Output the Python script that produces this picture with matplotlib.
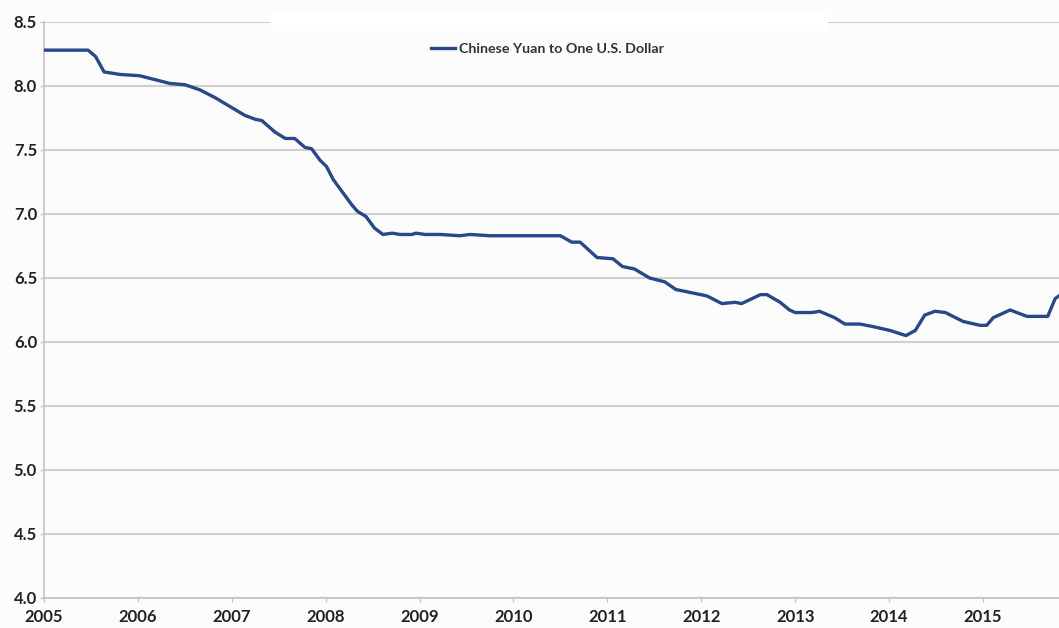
# Chinese yuan per US dollar, 2005-2015
import numpy as np
import matplotlib.pyplot as plt
from matplotlib.patches import Rectangle

plt.rcParams['font.family'] = ['Lato', 'DejaVu Sans']

# fractional year and CNY per USD
years = [2005.00, 2005.47, 2005.55, 2005.64, 2005.81, 2006.02, 2006.18, 2006.34,
         2006.50, 2006.66, 2006.82, 2006.98, 2007.14, 2007.25, 2007.32, 2007.46,
         2007.57, 2007.67, 2007.78, 2007.85, 2007.94, 2008.01, 2008.08, 2008.18,
         2008.28, 2008.34, 2008.43, 2008.52, 2008.61, 2008.71, 2008.79, 2008.92,
         2008.96, 2009.06, 2009.22, 2009.43, 2009.54, 2009.75, 2010.07, 2010.28,
         2010.50, 2010.62, 2010.71, 2010.89, 2011.06, 2011.16, 2011.29, 2011.45,
         2011.61, 2011.73, 2012.06, 2012.22, 2012.36, 2012.43, 2012.63, 2012.70,
         2012.84, 2012.94, 2013.00, 2013.18, 2013.26, 2013.42, 2013.53, 2013.69,
         2013.83, 2014.01, 2014.18, 2014.28, 2014.38, 2014.49, 2014.60, 2014.79,
         2014.97, 2015.04, 2015.11, 2015.29, 2015.36, 2015.47, 2015.69, 2015.77,
         2015.81]
rate = [8.28, 8.28, 8.23, 8.11, 8.09, 8.08, 8.05, 8.02,
        8.01, 7.97, 7.91, 7.84, 7.77, 7.74, 7.73, 7.64,
        7.59, 7.59, 7.52, 7.51, 7.42, 7.37, 7.27, 7.17,
        7.07, 7.02, 6.98, 6.89, 6.84, 6.85, 6.84, 6.84,
        6.85, 6.84, 6.84, 6.83, 6.84, 6.83, 6.83, 6.83,
        6.83, 6.78, 6.78, 6.66, 6.65, 6.59, 6.57, 6.50,
        6.47, 6.41, 6.36, 6.30, 6.31, 6.30, 6.37, 6.37,
        6.31, 6.25, 6.23, 6.23, 6.24, 6.19, 6.14, 6.14,
        6.12, 6.09, 6.05, 6.09, 6.21, 6.24, 6.23, 6.16,
        6.13, 6.13, 6.19, 6.25, 6.23, 6.20, 6.20, 6.34,
        6.36]

tick_years = list(range(2005, 2016))
y_ticks = [4.0, 4.5, 5.0, 5.5, 6.0, 6.5, 7.0, 7.5, 8.0, 8.5]

fig = plt.figure(figsize=(10.59, 6.28), dpi=100, facecolor='#fcfcfc')
ax = fig.add_axes([0.0415, 0.0478, 0.9585, 0.9172])
ax.set_facecolor('#fcfcfc')

ax.plot(years, rate, color='#2a4787', lw=2.4, solid_joinstyle='round',
        label='Chinese Yuan to One U.S. Dollar', zorder=3)

ax.set_xlim(2005, 2015.81)
ax.set_ylim(4.0, 8.5)
ax.set_xticks(tick_years)
ax.set_yticks(y_ticks)
ax.set_xticklabels([str(y) for y in tick_years])
ax.set_yticklabels(['%.1f' % v for v in y_ticks])

ax.grid(axis='y', color='#cfcfcf', lw=1.5, zorder=1)
for s in ['top', 'right']:
    ax.spines[s].set_visible(False)
for s in ['left', 'bottom']:
    ax.spines[s].set_color('#c4c4c4')
    ax.spines[s].set_linewidth(1.2)
ax.tick_params(axis='both', colors='#c4c4c4', length=3, width=1,
               labelcolor='#222222', labelsize=12)
ax.tick_params(axis='x', pad=5)
ax.tick_params(axis='y', pad=2)
for lab in ax.get_xticklabels() + ax.get_yticklabels():
    lab.set_fontweight('bold')

# white smudge across the top gridline in the source image
ax.add_patch(Rectangle((0.223, 0.985), 0.549, 0.03, transform=ax.transAxes,
                       facecolor='white', edgecolor='none', zorder=2, clip_on=False))

leg = ax.legend(loc='center', bbox_to_anchor=(0.496, 0.953), frameon=False,
                handlelength=1.7, handletextpad=0.25, fontsize=10.3,
                borderpad=0, borderaxespad=0)
for t in leg.get_texts():
    t.set_color('#333333')
    t.set_fontweight('bold')

fig.savefig('out.png', dpi=100, facecolor=fig.get_facecolor())
